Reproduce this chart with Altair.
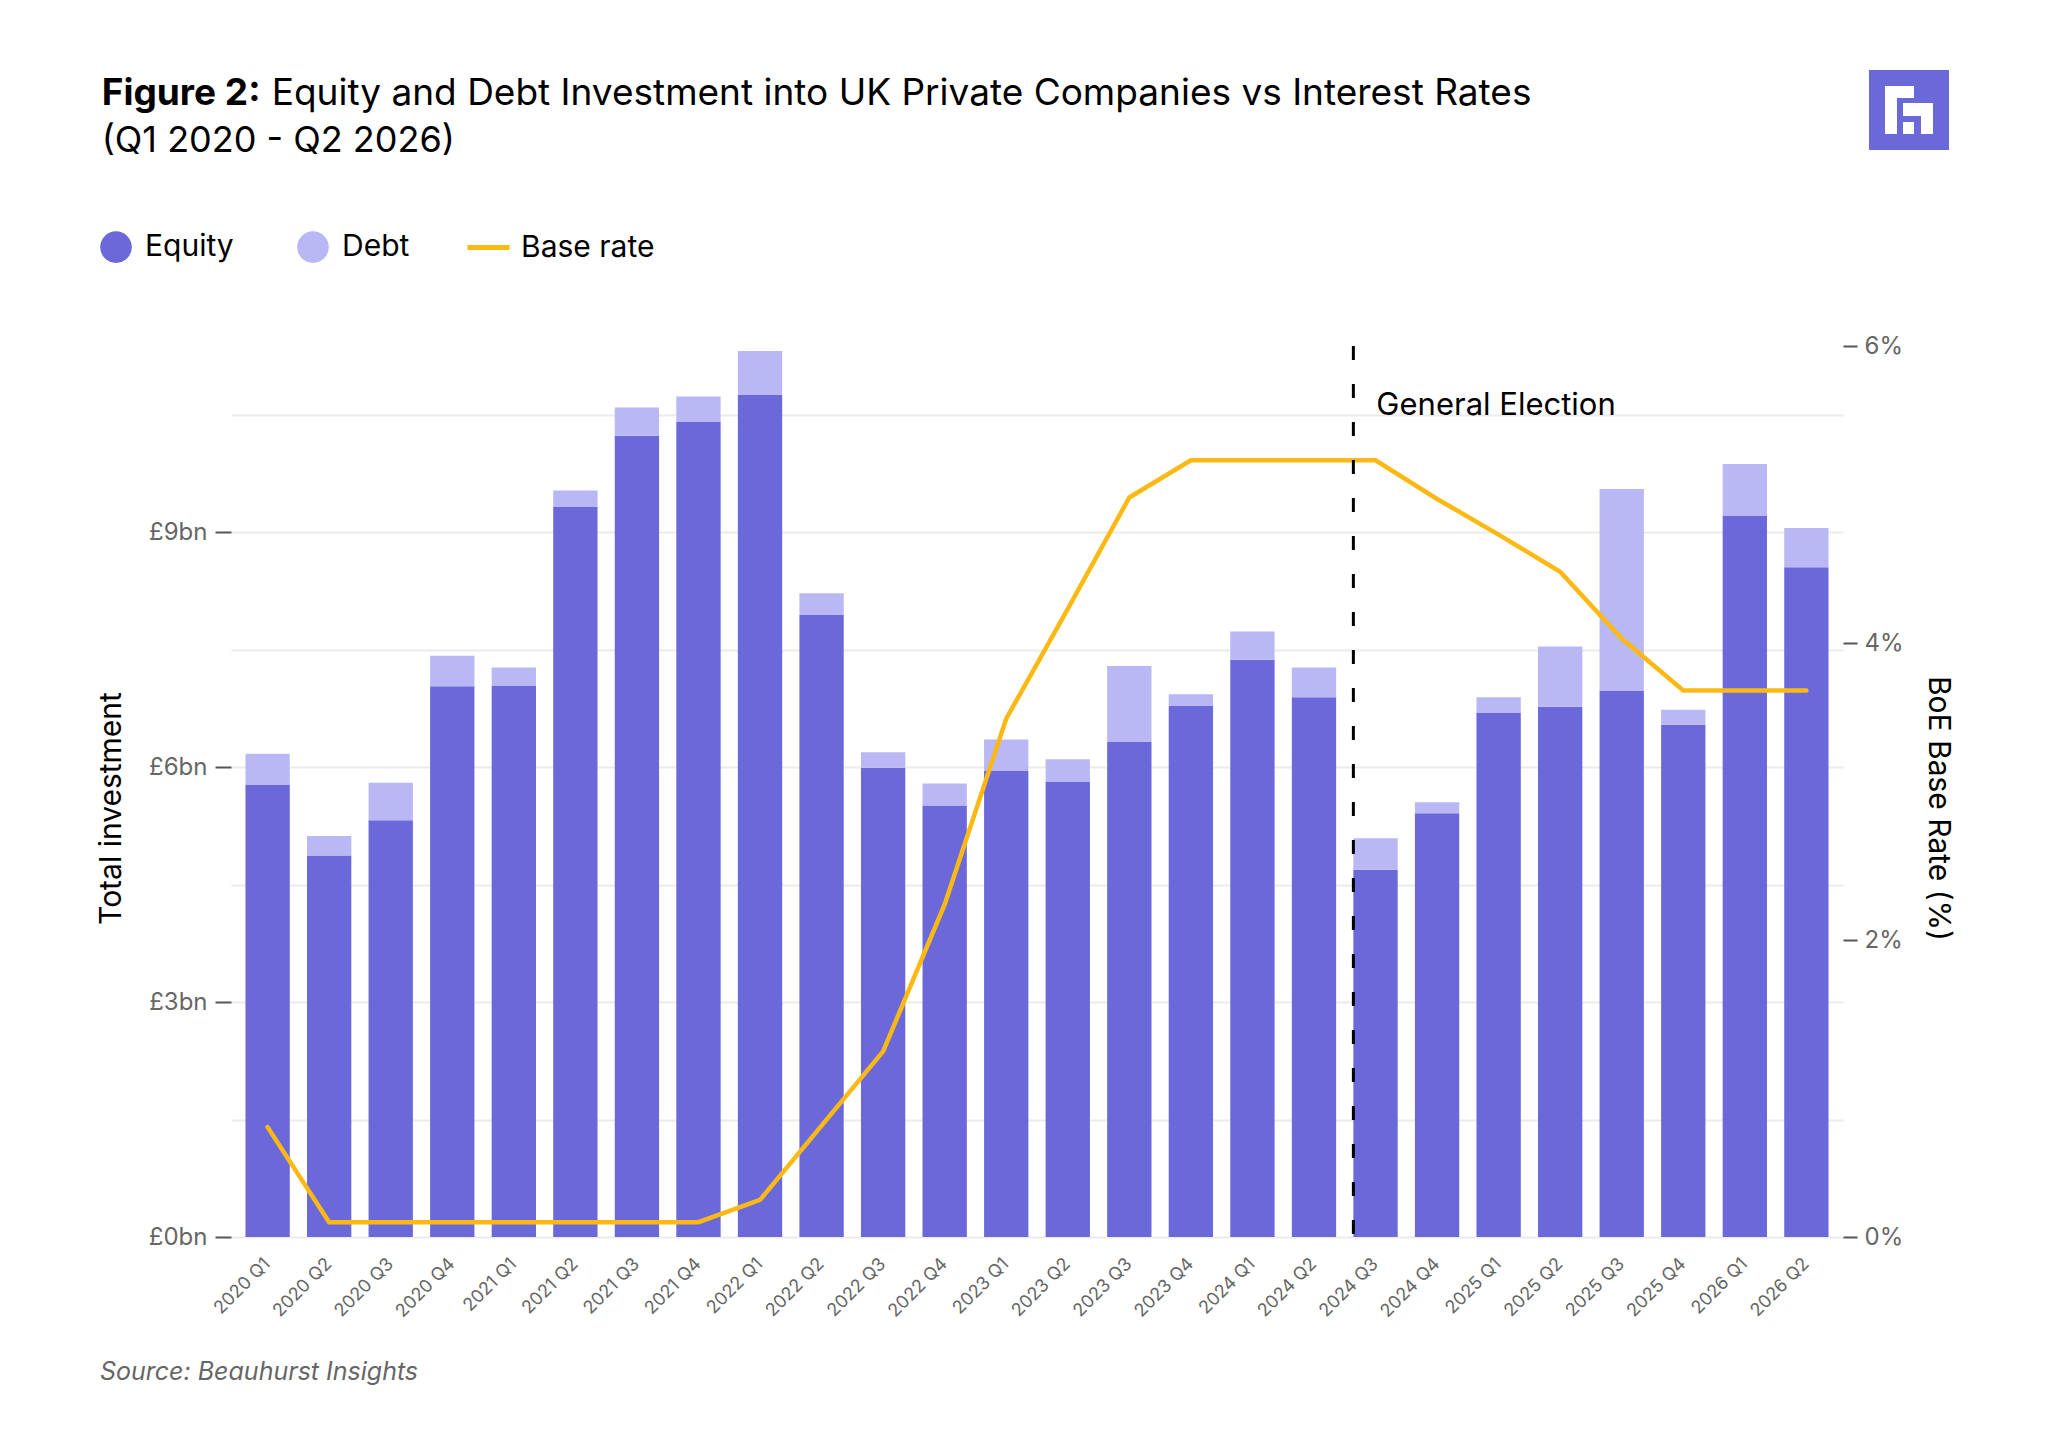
import altair as alt
import pandas as pd

QUARTERS = ["2020 Q1", "2020 Q2", "2020 Q3", "2020 Q4",
            "2021 Q1", "2021 Q2", "2021 Q3", "2021 Q4",
            "2022 Q1", "2022 Q2", "2022 Q3", "2022 Q4",
            "2023 Q1", "2023 Q2", "2023 Q3", "2023 Q4",
            "2024 Q1", "2024 Q2", "2024 Q3", "2024 Q4",
            "2025 Q1", "2025 Q2", "2025 Q3", "2025 Q4",
            "2026 Q1", "2026 Q2"]

# £bn
EQUITY = [5.77, 4.87, 5.32, 7.03, 7.04, 9.32, 10.23, 10.41, 10.75, 7.94, 5.99, 5.51, 5.95,
          5.81, 6.32, 6.78, 7.37, 6.89, 4.69, 5.41, 6.69, 6.77, 6.97, 6.54, 9.21, 8.55]
DEBT = [0.40, 0.25, 0.48, 0.39, 0.23, 0.21, 0.36, 0.32, 0.56, 0.28, 0.20, 0.28, 0.40,
        0.29, 0.97, 0.15, 0.36, 0.38, 0.40, 0.14, 0.20, 0.77, 2.58, 0.19, 0.66, 0.50]
# %
BASE_RATE = [0.74, 0.10, 0.10, 0.10, 0.10, 0.10, 0.10, 0.10, 0.25, 0.75, 1.25, 2.24, 3.49,
             4.23, 4.98, 5.23, 5.23, 5.23, 5.23, 4.97, 4.73, 4.48, 4.03, 3.68, 3.68, 3.68]

ELECTION_QUARTER = "2024 Q3"
LEFT_TICKS = [0, 1.5, 3, 4.5, 6, 7.5, 9, 10.5]
RIGHT_TICKS = [0, 2, 4, 6]

EQ_COLOR = "#6B68DA"
DEBT_COLOR = "#B9B8F4"
RATE_COLOR = "#FDB913"
FONT = "Inter"

bars_df = pd.DataFrame({
    "quarter": QUARTERS * 2,
    "type": ["Equity"] * len(QUARTERS) + ["Debt"] * len(QUARTERS),
    "value": EQUITY + DEBT,
    "rank": [0] * len(QUARTERS) + [1] * len(QUARTERS),
})
rate_df = pd.DataFrame({"quarter": QUARTERS, "rate": BASE_RATE,
                        "series": ["Base rate"] * len(QUARTERS)})
one = pd.DataFrame({"quarter": [ELECTION_QUARTER]})

x_enc = alt.X("quarter:N", sort=QUARTERS,
              scale=alt.Scale(domain=QUARTERS, paddingInner=0.28, paddingOuter=0.235),
              axis=alt.Axis(title=None, labelAngle=315, labelAlign="right",
                            labelBaseline="middle", labelPadding=24, labelFontSize=18,
                            labelColor="#666666", ticks=False, domain=False, grid=False,
                            labelFont=FONT))

bars = alt.Chart(bars_df).mark_bar().encode(
    x=x_enc,
    y=alt.Y("value:Q", stack="zero",
            scale=alt.Scale(domain=[0, 11.375], nice=False, zero=True),
            axis=alt.Axis(values=LEFT_TICKS,
                          labelExpr="datum.value % 3 === 0 ? '£' + datum.value + 'bn' : ''",
                          tickOpacity={"condition": {"test": "datum.value % 3 === 0", "value": 1}, "value": 0},
                          grid=True, gridColor="#EBEBEB", gridWidth=2, domain=False,
                          tickSize=16, tickColor="#555555", tickWidth=2, labelPadding=8,
                          labelFontSize=24, labelColor="#666666", labelFont=FONT,
                          title="Total investment", titleFontSize=30, titleFontWeight="normal",
                          titleColor="#000000", titleFont=FONT, titleAngle=270,
                          titleX=-120, titleY=462, titleAlign="center", titleBaseline="middle")),
    color=alt.Color("type:N",
                    scale=alt.Scale(domain=["Equity", "Debt"], range=[EQ_COLOR, DEBT_COLOR]),
                    legend=alt.Legend(orient="none", legendX=-131, legendY=-115,
                                      direction="horizontal", title=None, symbolType="circle",
                                      symbolSize=1000, symbolStrokeWidth=0, symbolOpacity=1,
                                      labelFontSize=30, labelFont=FONT, labelColor="#000000",
                                      labelOffset=13, columnPadding=63, padding=0)),
    order=alt.Order("rank:Q", sort="ascending"),
)

line = alt.Chart(rate_df).mark_line(strokeWidth=4.5, strokeCap="round").encode(
    x=alt.X("quarter:N", sort=QUARTERS, bandPosition=0.5),
    y=alt.Y("rate:Q", scale=alt.Scale(domain=[0, 6], nice=False),
            axis=alt.Axis(orient="right", values=RIGHT_TICKS, labelExpr="datum.value + '%'",
                          grid=False, domain=False, tickSize=14, tickColor="#555555",
                          tickWidth=2, labelPadding=7, labelFontSize=24, labelColor="#666666",
                          labelFont=FONT, title="BoE Base Rate (%)", titleFontSize=30,
                          titleFontWeight="normal", titleColor="#000000", titleFont=FONT,
                          titleAngle=90, titleX=94, titleY=462, titleAlign="center",
                          titleBaseline="middle")),
    stroke=alt.Stroke("series:N", scale=alt.Scale(domain=["Base rate"], range=[RATE_COLOR]),
                      legend=alt.Legend(orient="none", legendX=234, legendY=-122, title=None,
                                        symbolType="stroke", symbolSize=1764,
                                        symbolStrokeWidth=5, labelFontSize=30, labelFont=FONT,
                                        labelColor="#000000", labelOffset=9, padding=0)),
)

rule = alt.Chart(one).mark_rule(color="#000000", strokeDash=[14, 24], strokeWidth=3).encode(
    x=alt.X("quarter:N", sort=QUARTERS, bandPosition=0),
)

election = alt.Chart(one).mark_text(align="left", baseline="alphabetic", fontSize=31,
                                    font=FONT, color="#000000", dx=23).encode(
    x=alt.X("quarter:N", sort=QUARTERS, bandPosition=0),
    y=alt.value(68.6),
    text=alt.value("General Election"),
)

blank = pd.DataFrame({"a": [0]})


def txt(s, x, y, size, weight="normal", color="#000000", style="normal"):
    return alt.Chart(blank).mark_text(align="left", baseline="alphabetic", fontSize=size,
                                      font=FONT, fontWeight=weight, color=color,
                                      fontStyle=style).encode(
        x=alt.value(x), y=alt.value(y), text=alt.value(s))


def box(x1, x2, y1, y2, color):
    return alt.Chart(blank).mark_rect(color=color).encode(
        x=alt.value(x1), x2=alt.value(x2), y=alt.value(y1), y2=alt.value(y2))


title1a = txt("Figure 2:", -129.3, -241, 37, weight="bold")
title1b = txt("Equity and Debt Investment into UK Private Companies vs Interest Rates", 40.7, -241, 37)
title2 = txt("(Q1 2020 - Q2 2026)", -129.3, -194.3, 36)
source = txt("Source: Beauhurst Insights", -131, 1034, 25, color="#666666", style="italic")

logo = [
    box(1638, 1718, -276, -196, EQ_COLOR),
    box(1654, 1666, -260, -212, "#FFFFFF"),
    box(1654, 1683, -260, -248, "#FFFFFF"),
    box(1672, 1702, -243, -230, "#FFFFFF"),
    box(1690, 1702, -243, -212, "#FFFFFF"),
    box(1672, 1683, -224, -212, "#FFFFFF"),
]

chart = alt.layer(bars, line, rule, election, title1a, title1b, title2, source, *logo).resolve_scale(
    y="independent"
).properties(
    width=1612, height=891,
    padding={"left": 223, "top": 338, "right": 190, "bottom": 200},
    autosize=alt.AutoSizeParams(type="none"),
    background="#FFFFFF",
).configure(font=FONT).configure_view(stroke=None)

chart.save("out.html", embed_options={"renderer": "svg", "actions": False})
